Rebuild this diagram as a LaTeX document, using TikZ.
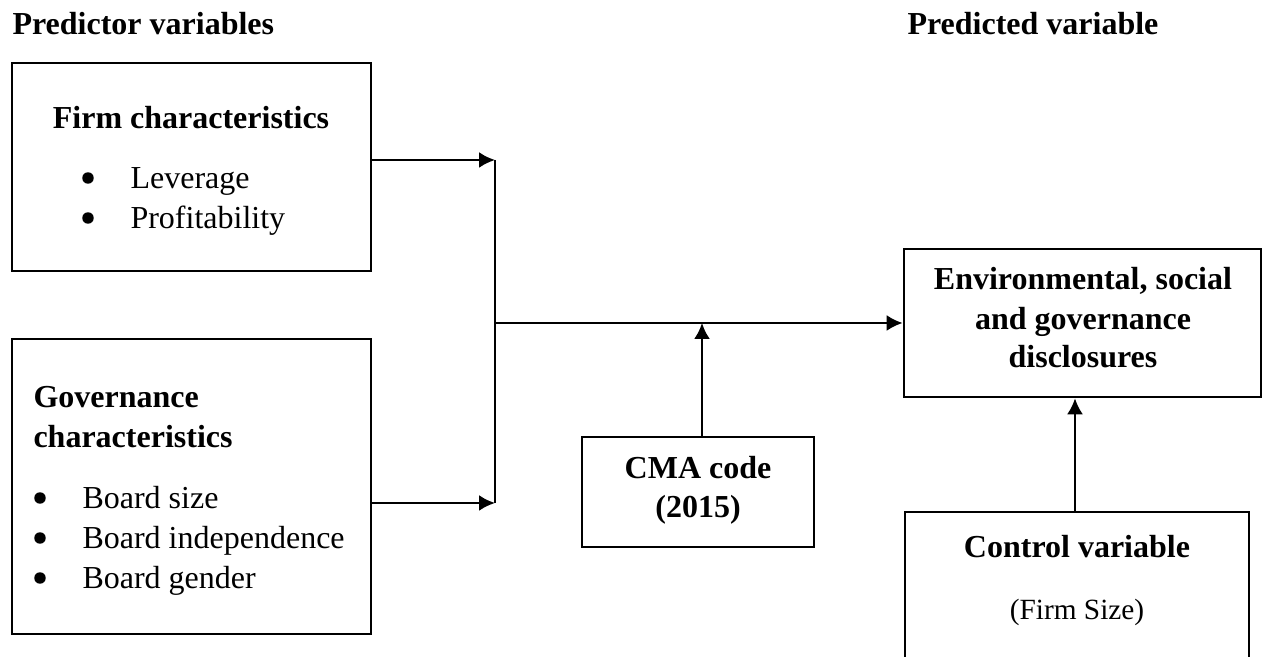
\documentclass[tikz,border=0pt]{standalone}
\usepackage{fontspec}
\setmainfont{Liberation Serif}
\usetikzlibrary{arrows.meta, fit, positioning}

\tikzset{
  box/.style={draw, line width=1pt, inner sep=0pt},
  head/.style={font=\fontsize{12}{14.6}\selectfont\bfseries, inner sep=0pt, anchor=base},
  item/.style={font=\fontsize{12}{14.6}\selectfont, inner sep=0pt, anchor=base west},
  dot/.style={circle, fill, inner sep=0pt, minimum size=4.3pt},
  link/.style={line width=0.9pt, ->},
}

\begin{document}
\begin{tikzpicture}[x=0.375pt,y=-0.375pt,>={Latex[length=6pt,width=6pt]}]
\useasboundingbox (0,0) rectangle (1263,657);
\clip (0,0) rectangle (1263,657);
% titles
\node [head, anchor=base west] (predictor) at (12,35) {Predictor variables};
\node [head, anchor=base west] (predicted) at (907,35) {Predicted variable};
% boxes
\node [box, fit={(12,63) (371,271)}] (firm) {};
\node [box, fit={(12,339) (371,634)}] (gov) {};
\node [box, fit={(904,249) (1261,397)}] (esg) {};
\node [box, fit={(582,437) (814,547)}] (cma) {};
\node [box, fit={(905,512) (1249,700)}] (ctl) {};
% firm characteristics
\node [head] (firmT) at (191,129) {Firm characteristics};
\node [dot] (firmB1) at (88,178) {};
\node [item] (lev) at (130,189) {Leverage};
\node [dot] (firmB2) at (88,218) {};
\node [item] (prof) at (130,229) {Profitability};
% governance characteristics
\node [head, anchor=base west] (govT1) at (33,408) {Governance};
\node [head, anchor=base west] (govT2) at (33,448) {characteristics};
\node [dot] (govB1) at (40,498) {};
\node [item] (bsize) at (82,509) {Board size};
\node [dot] (govB2) at (40,538) {};
\node [item] (bind) at (82,549) {Board independence};
\node [dot] (govB3) at (40,578) {};
\node [item] (bgen) at (82,589) {Board gender};
% outcome, moderator, control
\node [head] (esgT1) at (1083,290) {Environmental, social};
\node [head] (esgT2) at (1083,330) {and governance};
\node [head] (esgT3) at (1083,368) {disclosures};
\node [head] (cmaT1) at (698,479) {CMA code};
\node [head] (cmaT2) at (698,518) {(2015)};
\node [head] (ctlT) at (1077,558) {Control variable};
\node [item, anchor=base, font=\fontsize{11}{13}\selectfont] (ctlS) at (1077,620) {(Firm Size)};
% connectors
\coordinate (jt) at (495,160);
\coordinate (jb) at (495,503);
\coordinate (jm) at (495,323);
\coordinate (jc) at (702,323);
\draw [link] (firm.east |- jt) -- (jt);
\draw [link] (gov.east |- jb) -- (jb);
\draw [line width=0.9pt] (jt) -- (jb);
\draw [link] (jm) -- (esg.west |- jm);
\draw [link] (cma.north -| jc) -- (jc);
\draw [link] (ctl.north -| 1075,0) -- (esg.south -| 1075,0);
\end{tikzpicture}
\end{document}
